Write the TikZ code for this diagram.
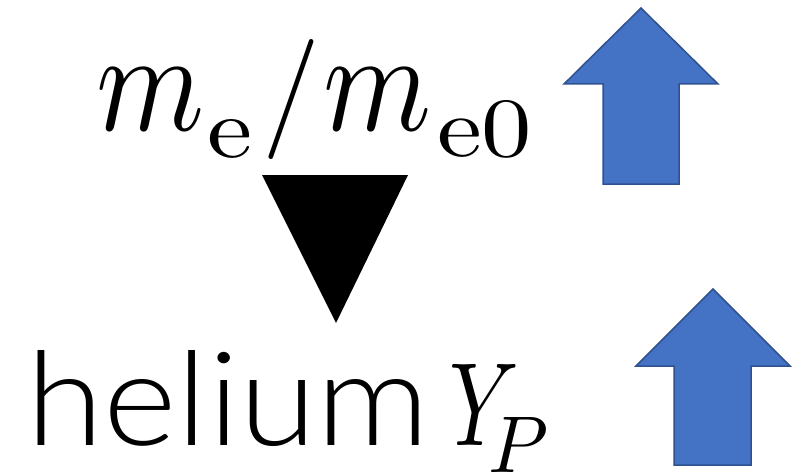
\documentclass[tikz,border=0pt]{standalone}
\usepackage{fontspec}
\usepackage{graphicx}
\newfontfamily\helfont{Lato Light}
\definecolor{arrowfill}{HTML}{4472C4}
\definecolor{arrowline}{HTML}{2F528F}
\begin{document}
\begin{tikzpicture}[x=1pt,y=-1pt,
  uparrow/.style={fill=arrowfill,draw=arrowline,line width=1.5pt,line join=miter},
  label/.style={inner sep=0pt,outer sep=0pt,anchor=base west}]
\useasboundingbox (0,0) rectangle (808,476);
% top text: m_e / m_e0
\node[label] (m1) at (96,130) {\resizebox{108pt}{62pt}{$m$}};
\node[label] (e1) at (207,157) {\resizebox{45pt}{38pt}{e}};
\node[label] (slash) at (262,130) {\resizebox{58pt}{90pt}{/}};
\node[label] (m2) at (323,130) {\resizebox{108pt}{62pt}{$m$}};
\node[label] (e2) at (437,157) {\resizebox{95pt}{56pt}{e0}};
% bottom text: helium Y_P
\node[label] (hel) at (26,445) {\resizebox{404pt}{95pt}{\helfont helium}};
\node[label] (YP) at (449,445) {\resizebox{70pt}{81pt}{$Y$}\hspace{-31pt}\raisebox{-27pt}{\resizebox{60pt}{55pt}{$P$}}};
% down triangle
\fill[black] (262,175) -- (408,175) -- (336,323) -- cycle;
% up arrows
\draw[uparrow] (641,8) -- (718,84) -- (679,84) -- (679,184) -- (603,184) -- (603,84) -- (564,84) -- cycle;
\draw[uparrow] (713,289) -- (790,366) -- (751,366) -- (751,465) -- (674,465) -- (674,366) -- (636,366) -- cycle;
\end{tikzpicture}
\end{document}
